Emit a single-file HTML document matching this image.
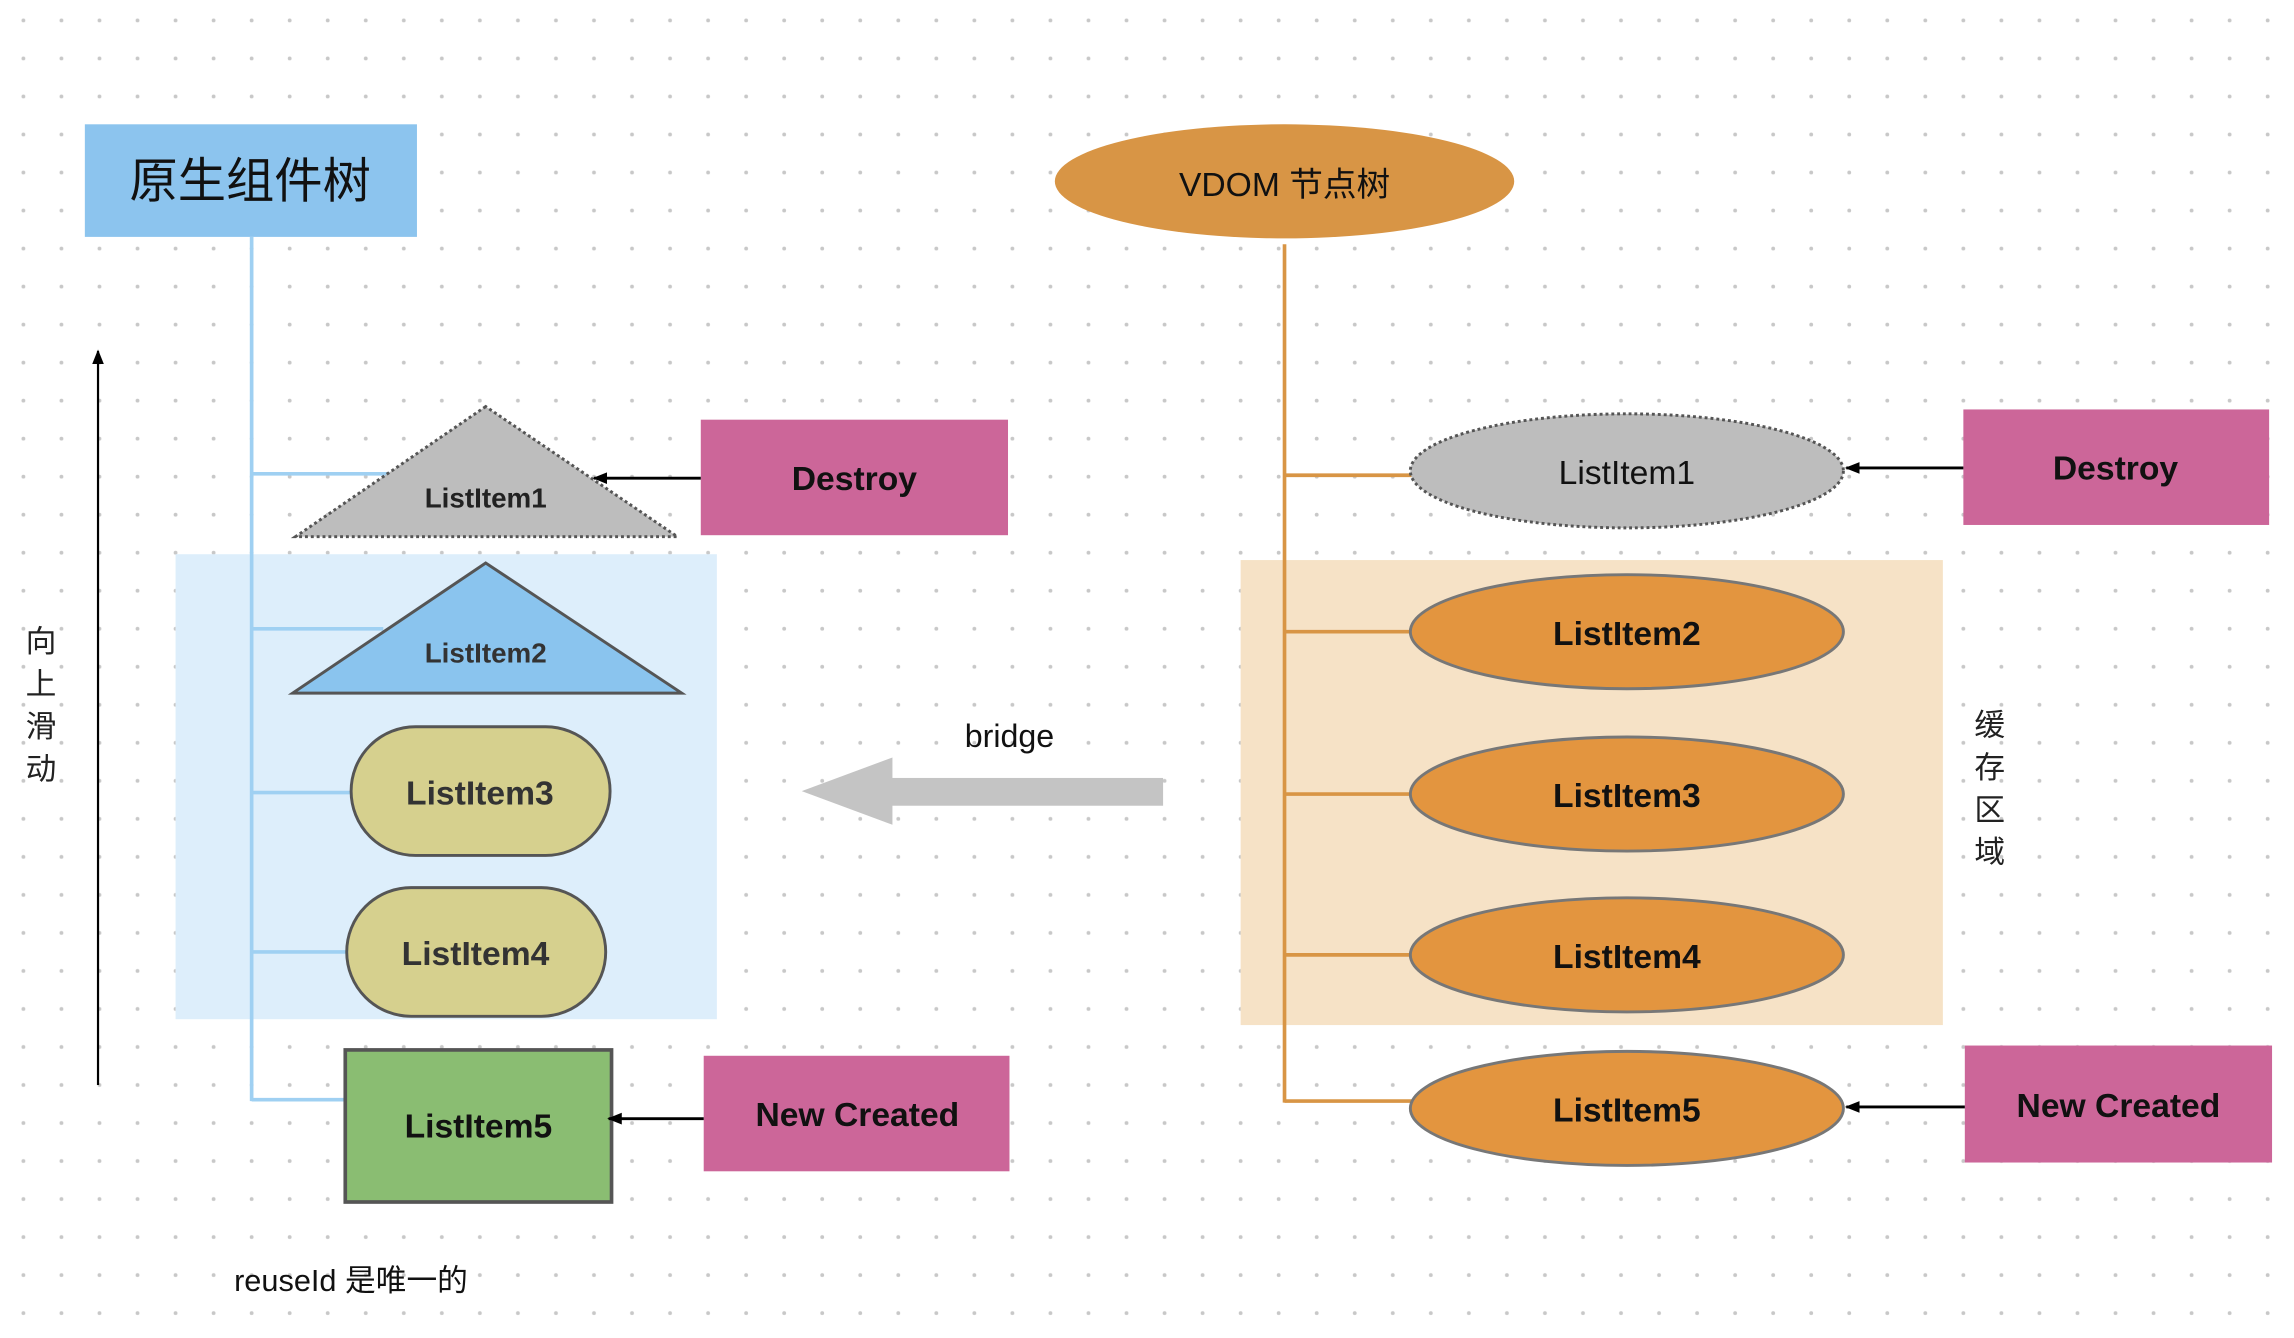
<!DOCTYPE html>
<html><head><meta charset="utf-8"><style>
html,body{margin:0;padding:0;background:#fff;}
svg{display:block;}
text{font-family:"Liberation Sans","Noto Sans CJK SC",sans-serif;}
</style></head><body>
<svg width="2294" height="1338" viewBox="0 0 1568 915" preserveAspectRatio="none" xmlns="http://www.w3.org/2000/svg">
<defs>
<pattern id="dots" x="0" y="0" width="26" height="26" patternUnits="userSpaceOnUse">
<circle cx="16" cy="14" r="1.3" fill="#c8c8c8"/>
</pattern>
<marker id="ah" markerWidth="10" markerHeight="10" refX="9" refY="5" orient="auto" markerUnits="userSpaceOnUse">
<path d="M0,1 L10,5 L0,9 z" fill="#000"/>
</marker>
</defs>
<rect width="1568" height="915" fill="#fff"/>
<rect width="1568" height="915" fill="url(#dots)"/>

<!-- left side -->
<rect x="120" y="379" width="370" height="318" fill="#ddeefb"/>
<rect x="58" y="85" width="227" height="77" fill="#8cc4ee"/>
<text x="171" y="135" font-size="33" text-anchor="middle" fill="#111">原生组件树</text>
<g stroke="#9fd0f2" stroke-width="2.5" fill="none">
<line x1="172" y1="162" x2="172" y2="753"/>
<line x1="172" y1="324" x2="268" y2="324"/>
<line x1="172" y1="430" x2="262" y2="430"/>
<line x1="172" y1="542" x2="240" y2="542"/>
<line x1="172" y1="651" x2="237" y2="651"/>
<line x1="172" y1="752" x2="236" y2="752"/>
</g>
<line x1="67" y1="742" x2="67" y2="240" stroke="#000" stroke-width="1.5" marker-end="url(#ah)"/>
<g font-size="21" fill="#222" text-anchor="middle">
<text x="28" y="446">向</text><text x="28" y="475">上</text><text x="28" y="504">滑</text><text x="28" y="533">动</text>
</g>
<polygon points="332,278 202,367 463,367" fill="#bdbdbd" stroke="#555" stroke-width="2" stroke-dasharray="2,2"/>
<text x="332" y="347" font-size="19" font-weight="bold" text-anchor="middle" fill="#222">ListItem1</text>
<polygon points="332,385 200,474 466,474" fill="#8ac4ee" stroke="#555" stroke-width="2"/>
<text x="332" y="453" font-size="19" font-weight="bold" text-anchor="middle" fill="#333">ListItem2</text>
<rect x="240" y="497" width="177" height="88" rx="44" fill="#d6d08e" stroke="#555" stroke-width="2"/>
<text x="328" y="550" font-size="23" font-weight="bold" text-anchor="middle" fill="#333">ListItem3</text>
<rect x="237" y="607" width="177" height="88" rx="44" fill="#d6d08e" stroke="#555" stroke-width="2"/>
<text x="325" y="660" font-size="23" font-weight="bold" text-anchor="middle" fill="#333">ListItem4</text>
<rect x="236" y="718" width="182" height="104" fill="#8abd72" stroke="#555" stroke-width="2.5"/>
<text x="327" y="778" font-size="23" font-weight="bold" text-anchor="middle" fill="#111">ListItem5</text>
<rect x="479" y="287" width="210" height="79" fill="#cc6699"/>
<text x="584" y="335" font-size="23" font-weight="bold" text-anchor="middle" fill="#111">Destroy</text>
<line x1="479" y1="327" x2="406" y2="327" stroke="#000" stroke-width="2" marker-end="url(#ah)"/>
<rect x="481" y="722" width="209" height="79" fill="#cc6699"/>
<text x="586" y="770" font-size="23" font-weight="bold" text-anchor="middle" fill="#111">New Created</text>
<line x1="481" y1="765" x2="416" y2="765" stroke="#000" stroke-width="2" marker-end="url(#ah)"/>
<text x="160" y="883" font-size="21" fill="#111">reuseId 是唯一的</text>

<!-- bridge -->
<text x="690" y="511" font-size="22" text-anchor="middle" fill="#111">bridge</text>
<rect x="608" y="532" width="187" height="19" fill="#c4c4c4"/>
<polygon points="548,541 610,518 610,564" fill="#c4c4c4"/>

<!-- right side -->
<rect x="848" y="383" width="480" height="318" fill="#f6e2c6"/>
<ellipse cx="878" cy="124" rx="157" ry="39" fill="#d89545"/>
<text x="878" y="134" font-size="23" text-anchor="middle" fill="#111">VDOM 节点树</text>
<g stroke="#d89545" stroke-width="2.5" fill="none">
<line x1="878" y1="167" x2="878" y2="754"/>
<line x1="878" y1="325" x2="965" y2="325"/>
<line x1="878" y1="432" x2="965" y2="432"/>
<line x1="878" y1="543" x2="965" y2="543"/>
<line x1="878" y1="653" x2="965" y2="653"/>
<line x1="878" y1="753" x2="965" y2="753"/>
</g>
<ellipse cx="1112" cy="322" rx="148" ry="39" fill="#bdbdbd" stroke="#555" stroke-width="2" stroke-dasharray="2,2"/>
<text x="1112" y="331" font-size="23" text-anchor="middle" fill="#111">ListItem1</text>
<g fill="#e3953f" stroke="#777" stroke-width="2">
<ellipse cx="1112" cy="432" rx="148" ry="39"/>
<ellipse cx="1112" cy="543" rx="148" ry="39"/>
<ellipse cx="1112" cy="653" rx="148" ry="39"/>
<ellipse cx="1112" cy="758" rx="148" ry="39"/>
</g>
<g font-size="23" font-weight="bold" text-anchor="middle" fill="#111">
<text x="1112" y="441">ListItem2</text>
<text x="1112" y="552">ListItem3</text>
<text x="1112" y="662">ListItem4</text>
<text x="1112" y="767">ListItem5</text>
</g>
<rect x="1342" y="280" width="209" height="79" fill="#cc6699"/>
<text x="1446" y="328" font-size="23" font-weight="bold" text-anchor="middle" fill="#111">Destroy</text>
<line x1="1342" y1="320" x2="1262" y2="320" stroke="#000" stroke-width="2" marker-end="url(#ah)"/>
<rect x="1343" y="715" width="210" height="80" fill="#cc6699"/>
<text x="1448" y="764" font-size="23" font-weight="bold" text-anchor="middle" fill="#111">New Created</text>
<line x1="1343" y1="757" x2="1262" y2="757" stroke="#000" stroke-width="2" marker-end="url(#ah)"/>
<g font-size="21" fill="#222" text-anchor="middle">
<text x="1360" y="503">缓</text><text x="1360" y="532">存</text><text x="1360" y="561">区</text><text x="1360" y="590">域</text>
</g>
</svg>
</body></html>
